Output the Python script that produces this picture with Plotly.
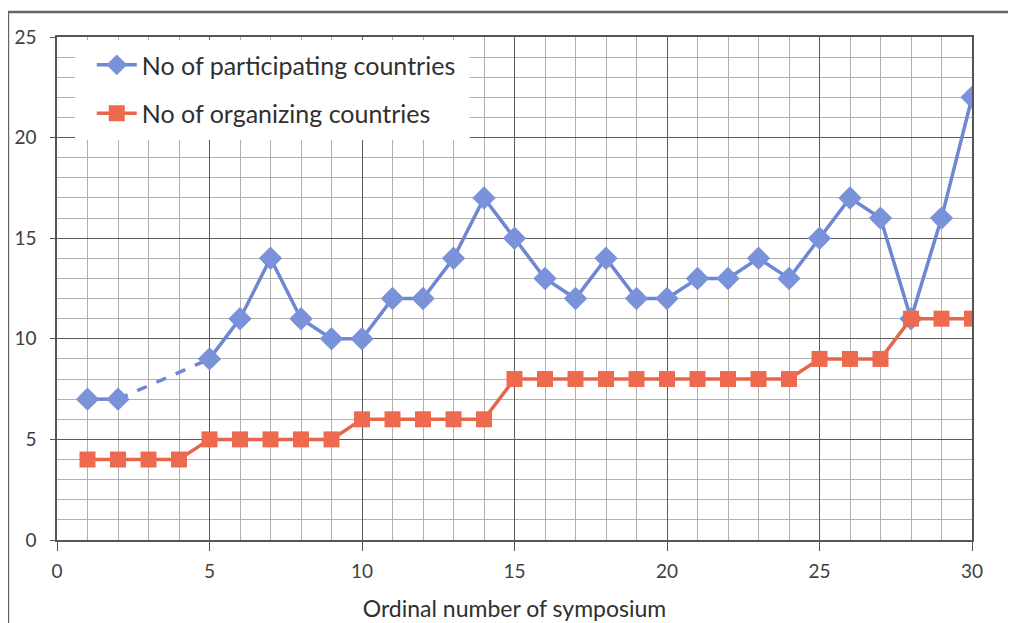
import plotly.graph_objects as go

symposium = list(range(1, 31))
participating = [7, 7, None, None, 9, 11, 14, 11, 10, 10, 12, 12, 14, 17, 15,
                 13, 12, 14, 12, 12, 13, 13, 14, 13, 15, 17, 16, 11, 16, 22]
organizing = [4, 4, 4, 4, 5, 5, 5, 5, 5, 6, 6, 6, 6, 6, 8,
              8, 8, 8, 8, 8, 8, 8, 8, 8, 9, 9, 9, 11, 11, 11]

x_ticks = [0, 5, 10, 15, 20, 25, 30]
y_ticks = [0, 5, 10, 15, 20, 25]

blue = "#6F86D2"
blue_m = "#7A92DA"
red = "#E4674C"
red_m = "#EE6A4F"

fig = go.Figure()

# dashed bridge across missing symposia 3-4
fig.add_trace(go.Scatter(
    x=[symposium[1], symposium[4]], y=[participating[1], participating[4]],
    mode="lines", line=dict(color=blue, width=3.5, dash="dash"),
    showlegend=False, hoverinfo="skip"))

fig.add_trace(go.Scatter(
    x=symposium, y=participating, mode="lines+markers",
    name="No of participating countries", legendgroup="a",
    line=dict(color=blue, width=3.5),
    marker=dict(symbol="diamond", size=18, color=blue_m),
    connectgaps=False))

fig.add_trace(go.Scatter(
    x=symposium, y=organizing, mode="lines+markers",
    name="No of organizing countries", legendgroup="b",
    line=dict(color=red, width=3.5),
    marker=dict(symbol="square", size=16, color=red_m)))

fig.update_layout(
    width=1016, height=623,
    margin=dict(l=49, r=52, t=29, b=91),
    paper_bgcolor="white", plot_bgcolor="white",
    font=dict(family="Lato, Open Sans, sans-serif", color="#404040", size=18),
    legend=dict(x=0.038, y=0.99, xanchor="left", yanchor="top",
                bgcolor="rgba(255,255,255,0)", font=dict(size=25, color="#303030"),
                itemwidth=40, tracegroupgap=13),
    xaxis=dict(range=[0, 30], tickvals=x_ticks, showgrid=True,
               gridcolor="#5a5a5a", gridwidth=1.3,
               minor=dict(tick0=0, dtick=1, showgrid=True, gridcolor="#b0b0b0", gridwidth=1),
               showline=True, linecolor="#555", linewidth=1.5, mirror=True,
               ticks="outside", ticklen=9, tickcolor="#555",
               ticklabelstandoff=4,
               tickfont=dict(size=19, color="#404040"),
               title=dict(text="Ordinal number of symposium",
                          font=dict(size=23, color="#303030"), standoff=20),
               zeroline=False, automargin=False),
    yaxis=dict(range=[0, 25], tickvals=y_ticks, showgrid=True,
               gridcolor="#5a5a5a", gridwidth=1.3,
               minor=dict(tick0=0, dtick=1, showgrid=True, gridcolor="#b0b0b0", gridwidth=1),
               showline=True, linecolor="#555", linewidth=1.5, mirror=True,
               ticks="outside", ticklen=5, tickcolor="#555",
               ticklabelstandoff=10,
               tickfont=dict(size=19, color="#404040"),
               zeroline=False, automargin=False),
    shapes=[
        dict(type="rect", xref="paper", yref="paper", x0=-0.0536, x1=1.06,
             y0=-0.25, y1=1.0497, line=dict(color="#666", width=2.5), layer="below"),
        dict(type="rect", xref="paper", yref="paper", x0=0.0197, x1=0.451,
             y0=0.795, y1=0.994, fillcolor="white", line=dict(width=0), layer="above"),
    ],
)

fig.write_html("out.html")
